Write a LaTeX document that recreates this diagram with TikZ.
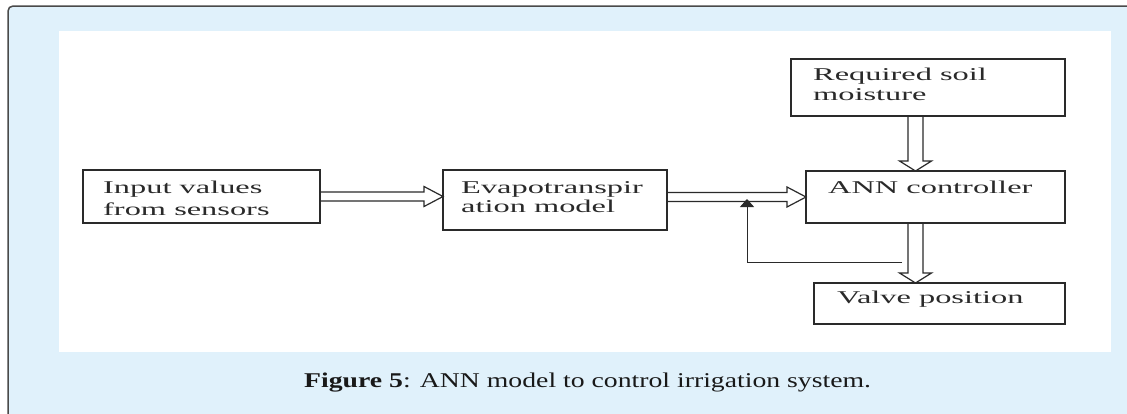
\documentclass[tikz,border=0pt]{standalone}
\usepackage{fontspec}
\setmainfont{Liberation Serif}
\newfontfamily\boxfont[FakeStretch=1.8]{Liberation Serif}
\newfontfamily\capfont[FakeStretch=1.32]{Liberation Serif}
\usetikzlibrary{arrows.meta,calc}
\definecolor{capblue}{HTML}{E0F1FB}
\definecolor{framecol}{HTML}{4A4A4A}
\definecolor{ink}{HTML}{2A2A2A}
\newcommand\harr[3]{\draw[dbl] let \p1=(#1.east), \p2=(#2.west), \p3=(#3) in
 (\x1,\y3+4.5) -- (\x2-19,\y3+4.5) -- (\x2-19,\y3+10) -- (\x2,\y3) -- (\x2-19,\y3-10) -- (\x2-19,\y3-4.5) -- (\x1,\y3-4.5);}
\newcommand\varr[3]{\draw[dbl] let \p1=(#1.south), \p2=(#2.north), \p3=(#3) in
 (\x3-7.5,\y1) -- (\x3-7.5,\y2+10) -- (\x3-16,\y2+10) -- (\x3,\y2) -- (\x3+16,\y2+10) -- (\x3+7.5,\y2+10) -- (\x3+7.5,\y1);}
\begin{document}
\begin{tikzpicture}[x=1pt,y=-1pt,
  box/.style={draw=ink, line width=1.4pt, inner sep=0pt, outer sep=0pt},
  lbl/.style={anchor=base west, inner sep=0pt, text=ink, font=\boxfont\fontsize{18}{20}\selectfont},
  dbl/.style={draw=ink, line width=1.2pt, line join=miter},
  fb/.style={draw=ink, line width=1pt, -{Triangle[length=8pt,width=14pt]}}]
\useasboundingbox (0,0) rectangle (1127,413);
\fill[white] (0,0) rectangle (1127,413);
\draw[draw=framecol, line width=1.5pt, fill=capblue, rounded corners=5pt] (8,6) rectangle (1150,430);
\fill[white] (59,31) rectangle (1111,352);
% boxes
\node[box, minimum width=237, minimum height=53] (in) at (201.5,196.5) {};
\node[box, minimum width=224, minimum height=60] (ev) at (555,200) {};
\node[box, minimum width=259, minimum height=52] (ann) at (935.5,197) {};
\node[box, minimum width=274, minimum height=57] (req) at (928,87.5) {};
\node[box, minimum width=251, minimum height=41] (val) at (939.5,303.5) {};
% texts
\node[lbl] (in1) at (103,193) {Input values};
\node[lbl] (in2) at (103,215) {from sensors};
\node[lbl] (ev1) at (461,193) {Evapotranspir};
\node[lbl] (ev2) at (461,212) {ation model};
\node[lbl] (ann1) at (828,193) {ANN controller};
\node[lbl] (req1) at (813,80) {Required soil};
\node[lbl] (req2) at (813,100) {moisture};
\node[lbl] (val1) at (837,303) {Valve position};
% connectors
\coordinate (vx) at (915.5,0);
\harr{in}{ev}{in}
\harr{ev}{ann}{ann}
\varr{req}{ann}{vx}
\varr{ann}{val}{vx}
\coordinate (fbs) at (902,262);
\coordinate (fbe) at (747,199);
\draw[fb] (fbs) -| (fbe);
% caption
\node[anchor=base west, inner sep=0pt, text=black!90] (cap) at (304,387) {\capfont\fontsize{21}{25}\selectfont\textbf{Figure 5}: ANN model to control irrigation system.};
\end{tikzpicture}
\end{document}
